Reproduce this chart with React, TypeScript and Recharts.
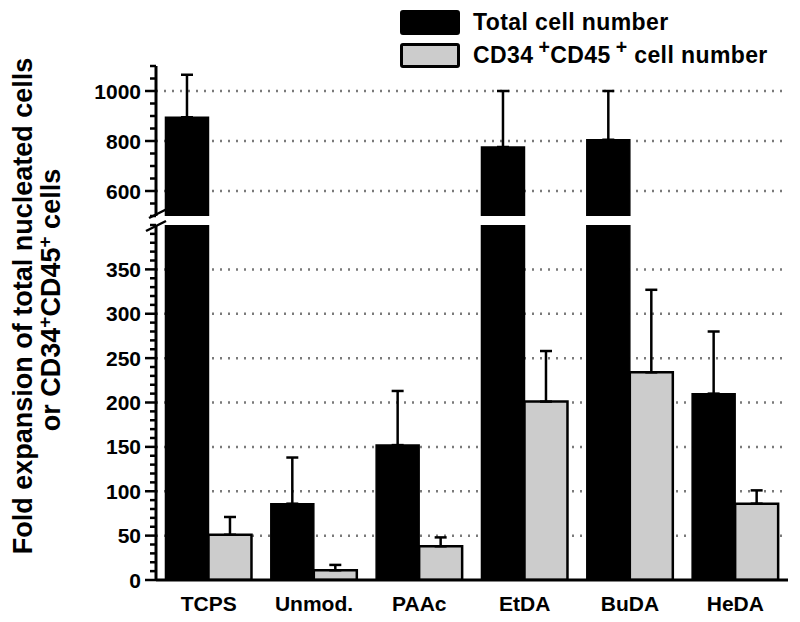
import React from 'react';
import { BarChart, Bar, XAxis, YAxis, CartesianGrid, ErrorBar, Legend } from 'recharts';

// ---------- data ----------
const categories = ['TCPS', 'Unmod.', 'PAAc', 'EtDA', 'BuDA', 'HeDA'];
const totalCells = [895, 86, 152, 776, 805, 210];
const totalCellsErr = [170, 52, 61, 224, 195, 70];
const cd34Cells = [51, 11, 38, 201, 234, 86];
const cd34CellsErr = [20, 6, 10, 57, 93, 15];
const seriesNames = ['Total cell number', 'CD34+CD45+ cell number'];

const lowerDomain = [0, 400];
const upperDomain = [500, 1100];
const lowerTickLabels = [0, 50, 100, 150, 200, 250, 300, 350];
const upperTickLabels = [600, 800, 1000];
const lowerGridValues = [50, 100, 150, 200, 250, 300, 350];
const upperGridValues = [600, 800, 1000];
const lowerMinorStep = 10;
const upperMinorStep = 50;

const yLabelLine1 = 'Fold expansion of total nucleated cells';
const yLabelLine2Parts = ['or CD34', 'CD45', ' cells'];

// ---------- derived tables ----------
const stepTicks = (lo: number, hi: number, step: number) => {
  const out: number[] = [];
  for (let v = lo; v <= hi; v += step) out.push(v);
  return out;
};
const lowerTicks = stepTicks(lowerDomain[0], lowerDomain[1], lowerMinorStep);
const upperTicks = stepTicks(upperDomain[0], upperDomain[1], upperMinorStep);

const lowerData = categories.map((c, i) => ({
  category: c,
  total: totalCells[i],
  cd34: cd34Cells[i],
  totalErr: totalCells[i] + totalCellsErr[i] <= lowerDomain[1] ? [0, totalCellsErr[i]] : null,
  cd34Err: cd34Cells[i] + cd34CellsErr[i] <= lowerDomain[1] ? [0, cd34CellsErr[i]] : null,
}));

const upperData = categories.map((c, i) => ({
  category: c,
  total: totalCells[i] > upperDomain[0] ? totalCells[i] : null,
  cd34: cd34Cells[i] > upperDomain[0] ? cd34Cells[i] : null,
  totalErr: totalCells[i] > upperDomain[0] ? [0, totalCellsErr[i]] : null,
  cd34Err: cd34Cells[i] > upperDomain[0] ? [0, cd34CellsErr[i]] : null,
}));

// ---------- styles ----------
const FONT = '"Liberation Sans", Arial, Helvetica, sans-serif';
const W = 800;
const H = 622;
const PLOT_LEFT = 156;
const PLOT_RIGHT_MARGIN = 12;
const UPPER_TOP = 66;
const UPPER_BOTTOM = 216;
const LOWER_TOP = 225;
const LOWER_BOTTOM = 580;

const makeYTick = (labels: number[]) => (props: any) => {
  const { x, y, payload } = props;
  const v = payload.value;
  const major = labels.includes(v);
  return (
    <g>
      <line x1={x - (major ? 11 : 6)} x2={x} y1={y} y2={y} stroke="#000" strokeWidth={2.5} />
      {major && (
        <text x={x - 15} y={y} dy={7.5} textAnchor="end" fontFamily={FONT} fontSize={21} fontWeight="bold" fill="#000">
          {v}
        </text>
      )}
    </g>
  );
};

const XTick = (props: any) => {
  const { x, y, payload } = props;
  return (
    <text x={x} y={y} dy={31} textAnchor="middle" fontFamily={FONT} fontSize={21} fontWeight="bold" fill="#000">
      {payload.value}
    </text>
  );
};

const withSup = (text: string) => {
  const parts = text.split('+');
  const out: React.ReactNode[] = [];
  parts.forEach((p, i) => {
    out.push(<span key={'t' + i}>{p}</span>);
    if (i < parts.length - 1)
      out.push(
        <span key={'s' + i} style={{ fontSize: '0.85em', position: 'relative', top: '-0.45em', marginLeft: 5 }}>
          +
        </span>
      );
  });
  return out;
};

const swatchStyles = [
  { background: '#000', border: '2px solid #000' },
  { background: '#cccccc', border: '3px solid #000' },
];

const LegendContent = (props: any) => {
  const payload = [...(props.payload || [])].sort(
    (a: any, b: any) => seriesNames.indexOf(a.value) - seriesNames.indexOf(b.value)
  );
  return (
    <div style={{ fontFamily: FONT }}>
      {payload.map((entry: any, i: number) => (
        <div key={i} style={{ display: 'flex', alignItems: 'center', height: 25, marginTop: i === 0 ? 2 : 8 }}>
          <div
            style={{
              width: 60,
              height: 25,
              boxSizing: 'border-box',
              borderRadius: 3,
              marginLeft: 2,
              ...swatchStyles[seriesNames.indexOf(entry.value)],
            }}
          />
          <div
            style={{
              marginLeft: 13,
              fontSize: 23,
              lineHeight: '25px',
              fontWeight: 'bold',
              color: '#000',
              letterSpacing: 0.4,
              whiteSpace: 'nowrap',
            }}
          >
            {withSup(String(entry.value))}
          </div>
        </div>
      ))}
    </div>
  );
};

const axisLineStyle = { stroke: '#000', strokeWidth: 3 };
const gridProps = {
  vertical: false,
  stroke: '#7a7a7a',
  strokeWidth: 2.5,
  strokeDasharray: '2 6',
};

export default function App() {
  return (
    <div style={{ position: 'absolute', left: 0, top: 0, width: W, height: H, background: '#fff', overflow: 'hidden' }}>
      {/* lower panel */}
      <div style={{ position: 'absolute', left: 0, top: 0 }}>
        <BarChart
          width={W}
          height={H}
          data={lowerData}
          margin={{ top: LOWER_TOP, right: PLOT_RIGHT_MARGIN, bottom: 0, left: 0 }}
          barCategoryGap="9%"
          barGap={0}
        >
          <CartesianGrid {...gridProps} horizontalValues={lowerGridValues} />
          <XAxis
            dataKey="category"
            height={H - LOWER_BOTTOM}
            axisLine={axisLineStyle}
            tickLine={false}
            tickSize={0}
            tickMargin={0}
            tick={<XTick />}
            interval={0}
          />
          <YAxis
            width={PLOT_LEFT}
            domain={lowerDomain}
            allowDataOverflow
            ticks={lowerTicks}
            interval={0}
            axisLine={axisLineStyle}
            tickLine={false}
            tickSize={0}
            tickMargin={0}
            tick={makeYTick(lowerTickLabels)}
          />
          <Bar dataKey="total" name={seriesNames[0]} fill="#000" stroke="#000" strokeWidth={1.5} isAnimationActive={false}>
            <ErrorBar dataKey="totalErr" direction="y" width={6} stroke="#000" strokeWidth={2.5} />
          </Bar>
          <Bar dataKey="cd34" name={seriesNames[1]} fill="#cccccc" stroke="#000" strokeWidth={2.5} isAnimationActive={false}>
            <ErrorBar dataKey="cd34Err" direction="y" width={6} stroke="#000" strokeWidth={2.5} />
          </Bar>
        </BarChart>
      </div>

      {/* upper panel */}
      <div style={{ position: 'absolute', left: 0, top: 0 }}>
        <BarChart
          width={W}
          height={H}
          data={upperData}
          margin={{ top: UPPER_TOP, right: PLOT_RIGHT_MARGIN, bottom: H - UPPER_BOTTOM, left: 0 }}
          barCategoryGap="9%"
          barGap={0}
        >
          <CartesianGrid {...gridProps} horizontalValues={upperGridValues} />
          <XAxis dataKey="category" hide />
          <YAxis
            width={PLOT_LEFT}
            domain={upperDomain}
            allowDataOverflow
            ticks={upperTicks}
            interval={0}
            axisLine={axisLineStyle}
            tickLine={false}
            tickSize={0}
            tickMargin={0}
            tick={makeYTick(upperTickLabels)}
          />
          <Legend
            layout="horizontal"
            align="center"
            verticalAlign="middle"
            content={<LegendContent />}
            wrapperStyle={{ left: 398, top: 8, width: 400, height: 70 }}
          />
          <Bar dataKey="total" name={seriesNames[0]} fill="#000" stroke="#000" strokeWidth={1.5} isAnimationActive={false}>
            <ErrorBar dataKey="totalErr" direction="y" width={6} stroke="#000" strokeWidth={2.5} />
          </Bar>
          <Bar dataKey="cd34" name={seriesNames[1]} fill="#cccccc" stroke="#000" strokeWidth={2.5} isAnimationActive={false}>
            <ErrorBar dataKey="cd34Err" direction="y" width={6} stroke="#000" strokeWidth={2.5} />
          </Bar>
        </BarChart>
      </div>

      {/* axis title and axis-break marks */}
      <svg width={W} height={H} style={{ position: 'absolute', left: 0, top: 0, pointerEvents: 'none' }}>
        <g fontFamily={FONT} fontWeight="bold" fill="#000" fontSize={27}>
          <text transform="translate(32,306) rotate(-90)" textAnchor="middle">
            {yLabelLine1}
          </text>
          <text transform="translate(60,300) rotate(-90)" textAnchor="middle">
            {yLabelLine2Parts[0]}
            <tspan dy={-9} fontSize={19}>+</tspan>
            <tspan dy={9}>{yLabelLine2Parts[1]}</tspan>
            <tspan dy={-9} fontSize={19}>+</tspan>
            <tspan dy={9}>{yLabelLine2Parts[2]}</tspan>
          </text>
        </g>
        <line x1={149} y1={218} x2={167} y2={209} stroke="#000" strokeWidth={2.5} />
        <line x1={146} y1={231} x2={166} y2={221} stroke="#000" strokeWidth={2.5} />
      </svg>
    </div>
  );
}
